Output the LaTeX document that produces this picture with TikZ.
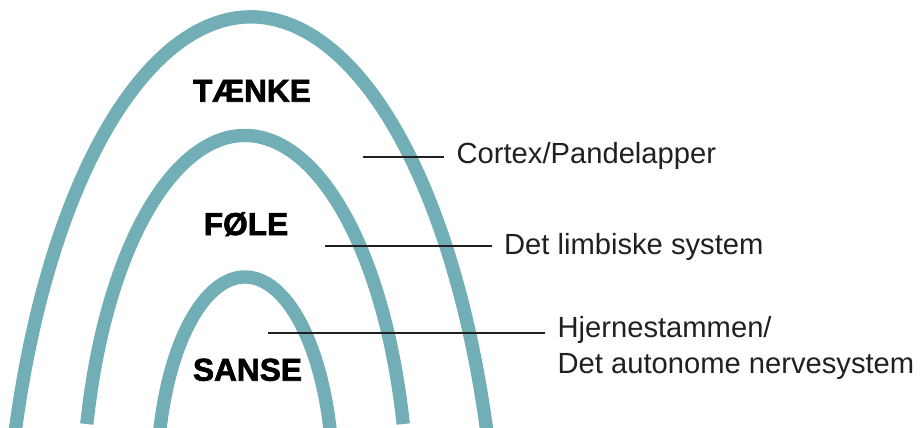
\documentclass[tikz,border=0pt]{standalone}
\usepackage{fontspec}
\setmainfont{Liberation Sans}
\newfontfamily\heavyfont[FakeBold=2]{Liberation Sans Bold}
\definecolor{archteal}{RGB}{114,174,181}
\definecolor{inkgray}{RGB}{35,31,32}
\tikzset{
	arch/.style={line width=7.6pt, color=archteal},
	leader/.style={line width=1.1pt, color=inkgray},
	level/.style={anchor=base, inner sep=0, font=\heavyfont\fontsize{18}{21}\selectfont},
	part/.style={anchor=base west, inner xsep=7pt, inner ysep=0, align=left, text=inkgray, font=\fontsize{16.6}{20.4}\selectfont}
}

\begin{document}
\begin{tikzpicture}[x=0.02cm, y=0.02cm]
	\useasboundingbox (0,0) rectangle (920,427);
	
	% the three arches, outer to inner
	\draw [arch] (251,-190) ++(161.84:248 and 600) arc[start angle=161.84, end angle=18.16, x radius=248, y radius=600];
	\draw [arch] (245,-88.5) ++(166.07:163 and 380) arc[start angle=166.07, end angle=13.93, x radius=163, y radius=380];
	\draw [arch] (245,-55) ++(165.31:88 and 205) arc[start angle=165.31, end angle=14.69, x radius=88, y radius=205];
	
	\node [level] (think) at (252,325.3) {TÆNKE};
	\node [level] (feel) at (246,192) {FØLE};
	\node [level] (sense) at (247.5,46.3) {SANSE};
	
	\node [part] (cortex) at (444,264) {Cortex/Pandelapper};
	\node [part] (limbic) at (491.5,173) {Det limbiske system};
	% base of a two-line node is its last line
	\node [part] (stem) at (545,54) {Hjernestammen/\\Det autonome nervesystem};
	
	\coordinate (c1) at (363,270.3);
	\coordinate (c2) at (325,181.3);
	\coordinate (c3) at (268,93.7);
	
	\draw [leader] (c1) -- (c1 -| cortex.west);
	\draw [leader] (c2) -- (c2 -| limbic.west);
	\draw [leader] (c3) -- (c3 -| stem.west);
	
\end{tikzpicture}
\end{document}
